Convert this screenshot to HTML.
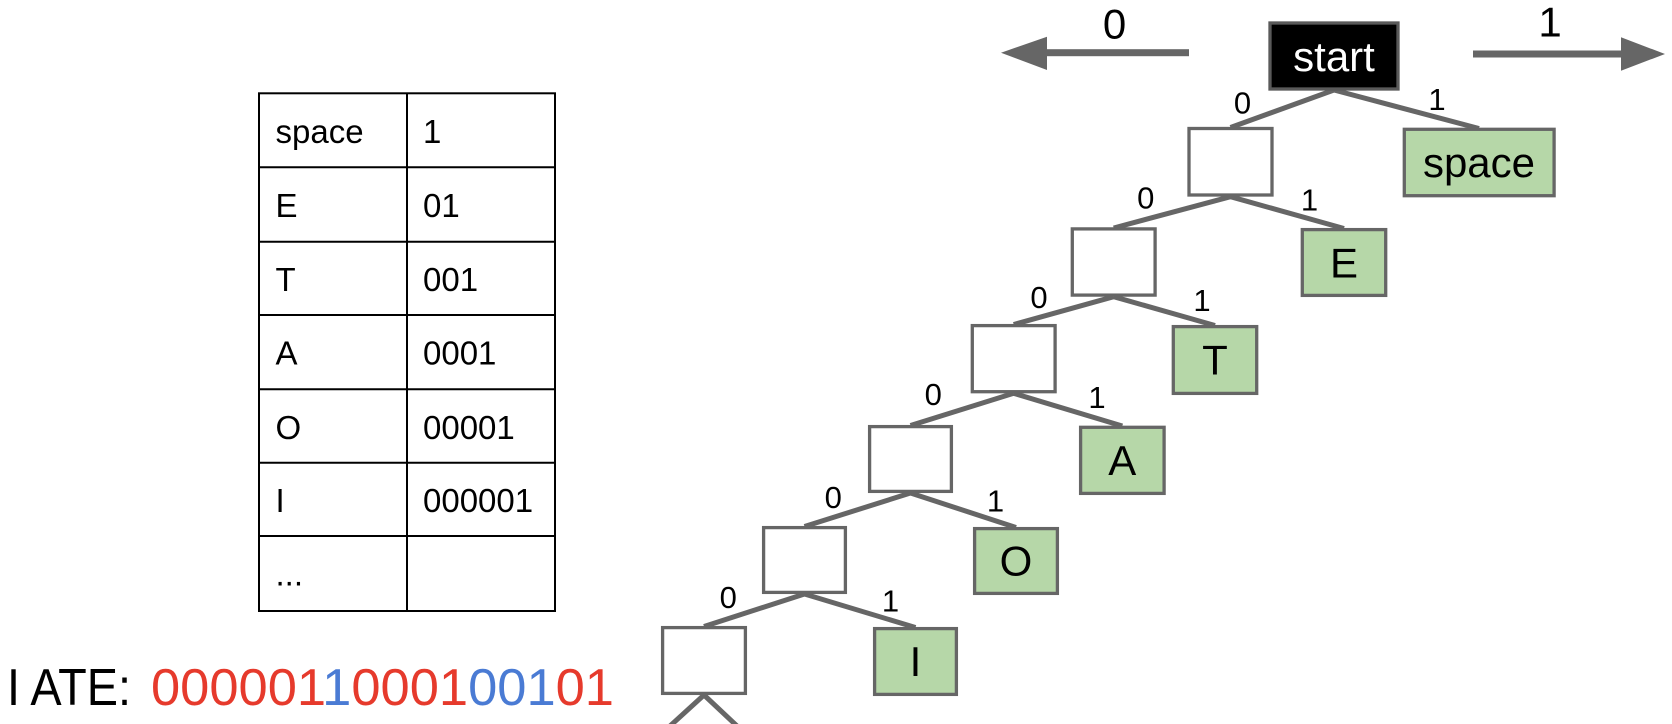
<!DOCTYPE html>
<html>
<head>
<meta charset="utf-8">
<style>
  html, body { margin: 0; padding: 0; background: #ffffff; }
  body { width: 1672px; height: 724px; overflow: hidden; }
  svg { display: block; }
  text { font-family: "Liberation Sans", Arial, sans-serif; }
</style>
</head>
<body>
<svg width="1672" height="724" viewBox="0 0 1672 724" xmlns="http://www.w3.org/2000/svg">
  <!-- Table -->
  <g stroke="#000" stroke-width="2" fill="none">
    <rect x="259" y="93.3" width="296" height="517.7"/>
    <line x1="407" y1="93.3" x2="407" y2="611"/>
    <line x1="259" y1="167.3" x2="555" y2="167.3"/>
    <line x1="259" y1="241.7" x2="555" y2="241.7"/>
    <line x1="259" y1="315" x2="555" y2="315"/>
    <line x1="259" y1="389.3" x2="555" y2="389.3"/>
    <line x1="259" y1="462.7" x2="555" y2="462.7"/>
    <line x1="259" y1="536" x2="555" y2="536"/>
  </g>
  <g font-size="33" fill="#000">
    <text x="275.5" y="142.8">space</text>
    <text x="423" y="142.8">1</text>
    <text x="275.5" y="216.8">E</text>
    <text x="423" y="216.8">01</text>
    <text x="275.5" y="291.2">T</text>
    <text x="423" y="291.2">001</text>
    <text x="275.5" y="364.5">A</text>
    <text x="423" y="364.5">0001</text>
    <text x="275.5" y="438.8">O</text>
    <text x="423" y="438.8">00001</text>
    <text x="275.5" y="512.2">I</text>
    <text x="423" y="512.2">000001</text>
    <text x="275.5" y="585.5">...</text>
  </g>

  <!-- Bottom text -->
  <text x="7" y="705" font-size="52" fill="#000" textLength="124" lengthAdjust="spacingAndGlyphs">I ATE:</text>
  <text x="151" y="705" font-size="52" textLength="463" lengthAdjust="spacingAndGlyphs"><tspan fill="#e63a2c">000001</tspan><tspan fill="#4a7bd4">1</tspan><tspan fill="#e63a2c">0001</tspan><tspan fill="#4a7bd4">001</tspan><tspan fill="#e63a2c">01</tspan></text>

  <!-- Direction arrows -->
  <g fill="#666">
    <rect x="1046" y="49.2" width="143" height="7"/>
    <polygon points="1001,52.7 1047,36.7 1047,70"/>
    <rect x="1473" y="50.5" width="149" height="7"/>
    <polygon points="1621,37.3 1665,54 1621,70.7"/>
  </g>
  <text x="1114.5" y="38.3" font-size="42" text-anchor="middle" fill="#000">0</text>
  <text x="1550" y="36.7" font-size="42" text-anchor="middle" fill="#000">1</text>

  <!-- Edges -->
  <g stroke="#666" stroke-width="5" stroke-linecap="butt" fill="none">
    <line x1="1334" y1="90" x2="1230.5" y2="127.5"/>
    <line x1="1334" y1="90" x2="1479" y2="128.5"/>
    <line x1="1230.5" y1="196.7" x2="1113.7" y2="228"/>
    <line x1="1230.5" y1="196.7" x2="1344" y2="228.5"/>
    <line x1="1113.7" y1="296.7" x2="1013.7" y2="324.5"/>
    <line x1="1113.7" y1="296.7" x2="1215" y2="325.5"/>
    <line x1="1013.7" y1="393.3" x2="910.5" y2="425.5"/>
    <line x1="1013.7" y1="393.3" x2="1122.3" y2="426"/>
    <line x1="910.5" y1="493" x2="804.5" y2="526.5"/>
    <line x1="910.5" y1="493" x2="1016" y2="527.5"/>
    <line x1="804.5" y1="594" x2="704" y2="626.5"/>
    <line x1="804.5" y1="594" x2="915.5" y2="627.5"/>
    <line x1="704" y1="695" x2="670" y2="726"/>
    <line x1="704" y1="695" x2="737" y2="726"/>
  </g>

  <!-- Edge labels -->
  <g font-size="31" fill="#000" text-anchor="middle">
    <text x="1242.5" y="113.3">0</text>
    <text x="1437" y="110">1</text>
    <text x="1145.8" y="208.3">0</text>
    <text x="1309.5" y="210.7">1</text>
    <text x="1039" y="308">0</text>
    <text x="1202" y="311">1</text>
    <text x="933.3" y="405">0</text>
    <text x="1097" y="408">1</text>
    <text x="833.3" y="508">0</text>
    <text x="995.5" y="511.7">1</text>
    <text x="728.3" y="608">0</text>
    <text x="890.5" y="611.7">1</text>
  </g>

  <!-- Nodes -->
  <g stroke="#666" stroke-width="3.3">
    <rect x="1270" y="23" width="128" height="66" fill="#000" stroke="#5a5a5a"/>
    <rect x="1189" y="128.5" width="83" height="66.5" fill="#fff"/>
    <rect x="1404.3" y="129.3" width="149.8" height="66.4" fill="#b6d7a8"/>
    <rect x="1072.3" y="228.9" width="82.8" height="66.2" fill="#fff"/>
    <rect x="1302.3" y="229.6" width="83.4" height="65.8" fill="#b6d7a8"/>
    <rect x="972.3" y="325.6" width="82.8" height="66.1" fill="#fff"/>
    <rect x="1173.3" y="326.6" width="83.4" height="66.8" fill="#b6d7a8"/>
    <rect x="869.6" y="426.6" width="81.8" height="64.8" fill="#fff"/>
    <rect x="1080.6" y="427.3" width="83.5" height="66.1" fill="#b6d7a8"/>
    <rect x="763.6" y="527.6" width="81.8" height="64.8" fill="#fff"/>
    <rect x="974.6" y="528.6" width="82.8" height="64.8" fill="#b6d7a8"/>
    <rect x="662.6" y="627.6" width="82.8" height="65.8" fill="#fff"/>
    <rect x="874.6" y="628.6" width="81.8" height="65.8" fill="#b6d7a8"/>
  </g>

  <!-- Node labels -->
  <g font-size="42" text-anchor="middle">
    <text x="1334" y="70.8" fill="#fff">start</text>
    <text x="1479" y="177" fill="#000">space</text>
    <text x="1344" y="277.3" fill="#000">E</text>
    <text x="1215" y="374.5" fill="#000">T</text>
    <text x="1122.3" y="475" fill="#000">A</text>
    <text x="1016" y="575.5" fill="#000">O</text>
    <text x="915.5" y="676" fill="#000">I</text>
  </g>
</svg>
</body>
</html>
